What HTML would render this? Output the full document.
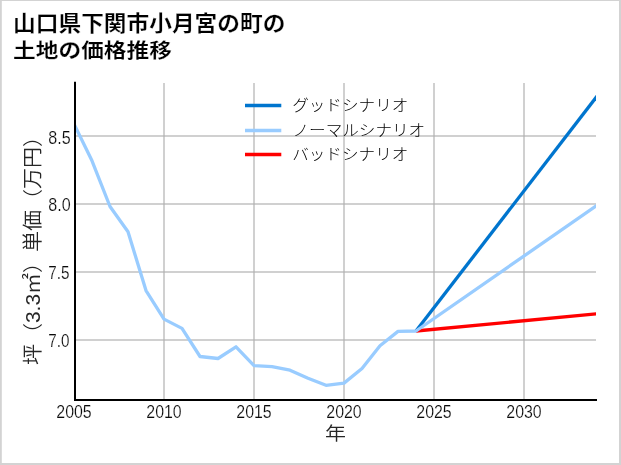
<!DOCTYPE html>
<html lang="ja">
<head>
<meta charset="utf-8">
<title>山口県下関市小月宮の町の土地の価格推移</title>
<style>
html,body{margin:0;padding:0;background:#fff;}
body{width:621px;height:465px;overflow:hidden;position:relative;font-family:"Liberation Sans", "Noto Sans CJK JP", sans-serif;}
svg{position:absolute;left:0;top:0;display:block;}
text{font-family:"Liberation Sans", "Noto Sans CJK JP", sans-serif;}
.tick{font-size:17.5px;font-weight:300;fill:#0a0a0a;stroke:#fff;stroke-width:0.2px;}
.lab{font-size:21px;font-weight:350;fill:#262626;}
.leg{font-size:16.6px;font-weight:300;fill:#000;}
.title{font-size:22.7px;font-weight:700;fill:#000;stroke:#fff;stroke-width:0.22px;}
</style>
</head>
<body>
<svg width="621" height="465" viewBox="0 0 621 465">
<rect x="0" y="0" width="621" height="465" fill="#d3d3d3"/>
<rect x="1.8" y="1" width="617.2" height="462" fill="#ffffff"/>
<g stroke="#b0b0b0" stroke-opacity="0.6" stroke-width="2" fill="none">
<path d="M164 83V400M254 83V400M344 83V400M434 83V400M524 83V400"/>
<path d="M75 136H596M75 204H596M75 272H596M75 340H596"/>
</g>
<defs><clipPath id="c"><rect x="75" y="82" width="521" height="318"/></clipPath></defs>
<g clip-path="url(#c)" fill="none" stroke-width="3.3" stroke-linejoin="round" stroke-linecap="butt">
<polyline points="416,331 614,312.19" stroke="#ff0000"/>
<polyline points="416,331 614,74.15" stroke="#0075ce"/>
<polyline points="74,124.0 92,160.8 110,206.5 128,231.7 146,290.6 164,319.1 182,328.4 200,356.5 218,358.5 236,346.8 254,365.7 272,366.7 290,370.2 308,378.3 326,385.3 344,383.1 362,368.5 380,345.8 398,331.4 416,331.0 614,193.5" stroke="#99ccff"/>
</g>
<path d="M75 82.8V400H596" fill="none" stroke="#000" stroke-width="2" stroke-linecap="square"/>
<g fill="none" stroke-width="3.4">
<path d="M245 105.5H281.3" stroke="#0075ce"/>
<path d="M245 130.45H281.3" stroke="#99ccff"/>
<path d="M245 154.5H281.3" stroke="#ff0000"/>
</g>
<text class="leg" transform="translate(292.2,111.2) scale(1,0.93)">グッドシナリオ</text>
<text class="leg" transform="translate(292.5,136.3) scale(1,0.93)">ノーマルシナリオ</text>
<text class="leg" transform="translate(292.2,160.0) scale(1,0.93)">バッドシナリオ</text>
<g class="tick" text-anchor="middle">
<text x="74" y="417.7" textLength="35.4" lengthAdjust="spacingAndGlyphs">2005</text>
<text x="164" y="417.7" textLength="35.4" lengthAdjust="spacingAndGlyphs">2010</text>
<text x="254" y="417.7" textLength="35.4" lengthAdjust="spacingAndGlyphs">2015</text>
<text x="344" y="417.7" textLength="35.4" lengthAdjust="spacingAndGlyphs">2020</text>
<text x="434" y="417.7" textLength="35.4" lengthAdjust="spacingAndGlyphs">2025</text>
<text x="524" y="417.7" textLength="35.4" lengthAdjust="spacingAndGlyphs">2030</text>
</g>
<g class="tick" text-anchor="end">
<text x="70.6" y="143.9" textLength="22.4" lengthAdjust="spacingAndGlyphs">8.5</text>
<text x="70.6" y="210.9" textLength="22.4" lengthAdjust="spacingAndGlyphs">8.0</text>
<text x="69.4" y="278.9" textLength="21.2" lengthAdjust="spacingAndGlyphs">7.5</text>
<text x="69.4" y="346.9" textLength="21.2" lengthAdjust="spacingAndGlyphs">7.0</text>
</g>
<text class="lab" text-anchor="middle" transform="translate(335.4,440) scale(1,0.87)">年</text>
<text class="lab" text-anchor="middle" transform="translate(40.1,245.5) rotate(-90) scale(1,0.95)">坪（3.3㎡）単価（万円）</text>
<text class="title" transform="translate(13.1,31.1) scale(1,0.93)">山口県下関市小月宮の町の</text>
<text class="title" transform="translate(13.1,58.4) scale(1,0.88)">土地の価格推移</text>
</svg>
</body>
</html>
